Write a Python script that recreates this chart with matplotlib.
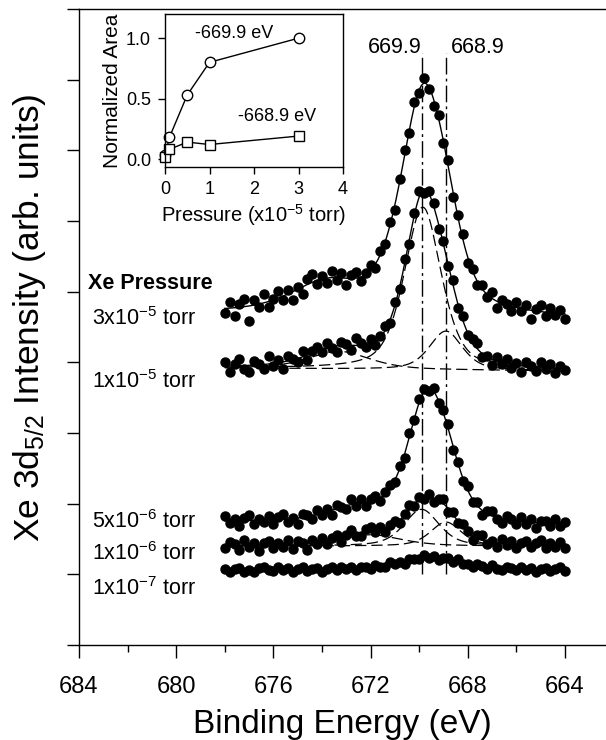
import matplotlib
matplotlib.use("Agg")
import matplotlib.pyplot as plt
import numpy as np

plt.rcParams["font.family"] = ["Liberation Sans", "DejaVu Sans"]
plt.rcParams["mathtext.fontset"] = "custom"
plt.rcParams["mathtext.rm"] = "Liberation Sans"
plt.rcParams["mathtext.it"] = "Liberation Sans:italic"
plt.rcParams["mathtext.bf"] = "Liberation Sans:bold"

# binding energy grid of the measured spectra (eV)
energy = [678.0, 677.8, 677.6, 677.4, 677.2, 677.0, 676.8, 676.6, 676.4, 676.2,
          676.0, 675.8, 675.6, 675.4, 675.2, 675.0, 674.8, 674.6, 674.4, 674.2,
          674.0, 673.8, 673.6, 673.4, 673.2, 673.0, 672.8, 672.6, 672.4, 672.2,
          672.0, 671.8, 671.6, 671.4, 671.2, 671.0, 670.8, 670.6, 670.4, 670.2,
          670.0, 669.8, 669.6, 669.4, 669.2, 669.0, 668.8, 668.6, 668.4, 668.2,
          668.0, 667.8, 667.6, 667.4, 667.2, 667.0, 666.8, 666.6, 666.4, 666.2,
          666.0, 665.8, 665.6, 665.4, 665.2, 665.0, 664.8, 664.6, 664.4, 664.2,
          664.0]

# offset intensities, one list per Xe pressure
int_3e5 = [4.70, 4.86, 4.65, 4.82, 4.90, 4.59, 4.88, 4.79, 4.96, 4.78,
           4.90, 5.01, 4.88, 5.02, 4.88, 5.06, 4.97, 5.18, 5.25, 5.11,
           5.22, 5.12, 5.29, 5.17, 5.26, 5.09, 5.23, 5.28, 5.15, 5.27,
           5.38, 5.34, 5.58, 5.68, 5.99, 6.16, 6.60, 7.01, 7.24, 7.68,
           7.81, 8.02, 7.87, 7.63, 7.50, 7.10, 6.87, 6.34, 6.09, 5.81,
           5.40, 5.32, 5.10, 5.09, 4.92, 4.99, 4.77, 4.88, 4.83, 4.72,
           4.86, 4.73, 4.81, 4.61, 4.76, 4.81, 4.66, 4.77, 4.67, 4.74, 4.62]
int_1e5 = [4.00, 3.87, 3.98, 4.05, 3.91, 3.87, 4.02, 3.98, 3.91, 4.09,
           3.95, 4.03, 3.90, 4.09, 4.05, 4.00, 4.16, 4.03, 4.16, 4.21,
           4.14, 4.28, 4.20, 4.14, 4.29, 4.26, 4.18, 4.34, 4.28, 4.21,
           4.33, 4.24, 4.37, 4.51, 4.56, 4.85, 5.04, 5.46, 5.68, 6.12,
           6.42, 6.39, 6.42, 6.26, 5.88, 5.72, 5.36, 5.17, 4.77, 4.65,
           4.38, 4.33, 4.28, 4.08, 4.09, 3.96, 4.08, 3.98, 4.05, 3.92,
           3.99, 3.87, 4.01, 3.95, 3.88, 4.01, 3.90, 3.97, 3.85, 3.95, 3.89]
int_5e6 = [1.82, 1.73, 1.78, 1.69, 1.80, 1.84, 1.71, 1.79, 1.74, 1.82,
           1.71, 1.81, 1.86, 1.74, 1.80, 1.71, 1.85, 1.84, 1.78, 1.91,
           1.84, 1.92, 1.84, 1.98, 1.95, 1.93, 2.06, 1.97, 2.06, 1.97,
           2.07, 2.11, 2.04, 2.16, 2.26, 2.30, 2.53, 2.65, 3.00, 3.18,
           3.48, 3.62, 3.60, 3.64, 3.43, 3.32, 3.13, 2.76, 2.59, 2.32,
           2.25, 2.03, 2.02, 1.84, 1.89, 1.90, 1.79, 1.73, 1.82, 1.78,
           1.71, 1.81, 1.71, 1.79, 1.66, 1.76, 1.76, 1.68, 1.78, 1.69, 1.74]
int_1e6 = [1.37, 1.46, 1.43, 1.35, 1.48, 1.39, 1.45, 1.33, 1.44, 1.47,
           1.37, 1.44, 1.39, 1.49, 1.36, 1.47, 1.44, 1.35, 1.49, 1.43,
           1.52, 1.43, 1.52, 1.55, 1.46, 1.56, 1.63, 1.54, 1.54, 1.64,
           1.67, 1.60, 1.67, 1.60, 1.70, 1.76, 1.73, 1.86, 1.98, 1.97,
           2.10, 2.07, 2.14, 2.03, 2.07, 2.06, 1.88, 1.88, 1.72, 1.71,
           1.61, 1.48, 1.55, 1.55, 1.43, 1.47, 1.39, 1.50, 1.41, 1.47,
           1.37, 1.45, 1.47, 1.38, 1.44, 1.48, 1.37, 1.45, 1.39, 1.46, 1.37]
int_1e7 = [1.08, 1.03, 1.07, 1.09, 1.04, 1.06, 1.03, 1.09, 1.10, 1.06,
           1.05, 1.10, 1.06, 1.09, 1.04, 1.08, 1.10, 1.05, 1.07, 1.09,
           1.04, 1.08, 1.11, 1.06, 1.10, 1.07, 1.11, 1.06, 1.10, 1.11,
           1.08, 1.13, 1.11, 1.10, 1.17, 1.14, 1.18, 1.15, 1.22, 1.22,
           1.21, 1.28, 1.23, 1.26, 1.20, 1.23, 1.23, 1.18, 1.21, 1.15,
           1.15, 1.10, 1.14, 1.12, 1.08, 1.13, 1.08, 1.06, 1.10, 1.09,
           1.06, 1.10, 1.06, 1.09, 1.04, 1.08, 1.09, 1.05, 1.08, 1.10, 1.05]

# fitted peaks: linear background (678 eV, 664 eV) + components (center, height, fwhm)
base_3e5 = [4.70, 4.62]
center_3e5 = [669.85, 668.9, 673.8]
height_3e5 = [3.05, 0.50, 0.40]
fwhm_3e5 = [2.2, 1.6, 3.5]

base_1e5 = [3.92, 3.877]
center_1e5 = [669.85, 668.9, 673.3]
height_1e5 = [2.30, 0.55, 0.25]
fwhm_1e5 = [1.8, 1.6, 3.0]

base_5e6 = [1.74, 1.68]
center_5e6 = [669.75, 668.9, 672.5]
height_5e6 = [1.60, 0.60, 0.20]
fwhm_5e6 = [1.8, 1.6, 3.0]

base_1e6 = [1.40, 1.40]
center_1e6 = [669.9, 668.9, 672.0]
height_1e6 = [0.52, 0.34, 0.16]
fwhm_1e6 = [1.7, 1.5, 3.0]

ref_peaks = [669.9, 668.9]
ref_labels = ["669.9", "668.9"]

# inset: normalized peak areas vs pressure
pressure = [0.0, 0.1, 0.5, 1.0, 3.0]
area_6699 = [0.03, 0.18, 0.53, 0.80, 1.00]
area_6689 = [0.02, 0.08, 0.14, 0.12, 0.19]


def pseudo_voigt(e, center, height, fwhm):
    u = (e - center) / (fwhm / 2.0)
    return height * (0.5 / (1 + u ** 2) + 0.5 * np.exp(-np.log(2) * u ** 2))


def background(e, base):
    return base[1] + (base[0] - base[1]) * (e - 664.0) / 14.0


e_fine = np.linspace(664.0, 678.0, 500)

fig = plt.figure(figsize=(6.06, 7.40), dpi=100)
ax = fig.add_axes([79 / 606, 95 / 740, 527 / 606, 636 / 740])

dots = dict(ls="none", marker="o", ms=6.5, color="black", mec="black", zorder=3)
for y in (int_3e5, int_1e5, int_5e6, int_1e6, int_1e7):
    ax.plot(energy, y, **dots)

fits = [
    (base_3e5, center_3e5, height_3e5, fwhm_3e5, False),
    (base_1e5, center_1e5, height_1e5, fwhm_1e5, True),
    (base_5e6, center_5e6, height_5e6, fwhm_5e6, False),
    (base_1e6, center_1e6, height_1e6, fwhm_1e6, True),
]
for base, centers, heights, widths, show_parts in fits:
    bg = background(e_fine, base)
    total = bg.copy()
    for c, h, w in zip(centers, heights, widths):
        part = pseudo_voigt(e_fine, c, h, w)
        total += part
        if show_parts:
            ax.plot(e_fine, bg + part, color="black", lw=0.9,
                    ls=(0, (9, 4)), zorder=2)
    ax.plot(e_fine, total, color="black", lw=1.0, zorder=4)

ax.vlines(ref_peaks, 1.0, 8.38, colors="black", lw=1.0,
          linestyles=[(0, (12, 3, 2, 3))], zorder=5)
ax.text(671.0, 8.38, ref_labels[0], fontsize=15.5, ha="center", va="baseline")
ax.text(667.58, 8.38, ref_labels[1], fontsize=15.5, ha="center", va="baseline")

lab_x = 683.48
ax.text(683.64, 5.04, "Xe Pressure", fontsize=15.5, fontweight="bold",
        va="baseline")
ax.text(lab_x, 4.53, r"3x10$^{-5}$ torr", fontsize=15.5, va="baseline")
ax.text(lab_x, 3.64, r"1x10$^{-5}$ torr", fontsize=15.5, va="baseline")
ax.text(lab_x, 1.66, r"5x10$^{-6}$ torr", fontsize=15.5, va="baseline")
ax.text(lab_x, 1.20, r"1x10$^{-6}$ torr", fontsize=15.5, va="baseline")
ax.text(lab_x, 0.71, r"1x10$^{-7}$ torr", fontsize=15.5, va="baseline")

ax.set_xlim(684, 662.31)
ax.set_ylim(0, 9)
ax.set_xticks([684, 680, 676, 672, 668, 664])
ax.set_xticks([682, 678, 674, 670, 666], minor=True)
ax.set_yticks(range(10))
ax.set_yticklabels([])
ax.tick_params(which="major", direction="out", length=9, width=1.0,
               labelsize=17, pad=13)
ax.tick_params(which="minor", direction="out", length=5, width=1.0)
ax.spines["right"].set_visible(False)
for s in ("left", "bottom", "top"):
    ax.spines[s].set_linewidth(1.0)
ax.set_xlabel("Binding Energy (eV)", fontsize=24, labelpad=8)
fig.text(30 / 606, (740 - 318) / 740, r"Xe 3d$_{5/2}$ Intensity (arb. units)",
         fontsize=25.5, rotation=90, ha="center", va="center")

# inset
ins = fig.add_axes([165 / 606, (740 - 167) / 740, 178 / 606, 153 / 740])
ins.set_zorder(10)
ins.plot(pressure, area_6699, color="black", lw=1.0, marker="o", ms=7.5,
         mfc="white", mec="black", mew=1.0, clip_on=False)
ins.plot(pressure, area_6689, color="black", lw=1.0, marker="s", ms=6.5,
         mfc="white", mec="black", mew=1.0, clip_on=False)
ins.text(1.56, 1.04, "-669.9 eV", fontsize=13, ha="center", va="center")
ins.text(2.51, 0.35, "-668.9 eV", fontsize=13, ha="center", va="center")
ins.set_xlim(0, 4)
ins.set_ylim(-0.066, 1.2)
ins.set_xticks([0, 1, 2, 3, 4])
ins.set_yticks([0.0, 0.5, 1.0])
ins.set_yticklabels(["0.0", "0.5", "1.0"])
ins.tick_params(direction="out", length=5, width=1.0, labelsize=13, pad=5)
for s in ins.spines.values():
    s.set_linewidth(1.0)
ins.set_xlabel(r"Pressure (x10$^{-5}$ torr)", fontsize=14.5, labelpad=3)
ins.set_ylabel("Normalized Area", fontsize=15, labelpad=3)

fig.savefig("out.png", dpi=100)
